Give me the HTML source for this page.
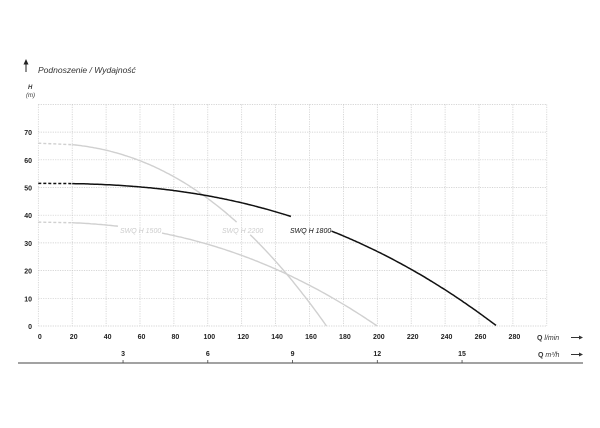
<!DOCTYPE html>
<html><head><meta charset="utf-8"><style>
html,body{margin:0;padding:0;background:#fff;}
svg{display:block;font-family:"Liberation Sans",sans-serif;}
.t{font-size:7px;font-weight:bold;fill:#222;}
</style></head><body>
<svg id="s" width="600" height="428" xmlns="http://www.w3.org/2000/svg">
<g id="grid" stroke="#c8c8c8" stroke-width="0.7" stroke-dasharray="1.2,1.2"></g>
<g id="lab"></g>
<path d="M26 72 V62" stroke="#222" stroke-width="1"/>
<path d="M23.5 64.5 L26 59 L28.5 64.5 Z" fill="#222"/>
<text x="38" y="73" font-size="8.5" font-style="italic" fill="#333">Podnoszenie / Wydajność</text>
<text x="28" y="89" font-size="6" font-style="italic" font-weight="bold" fill="#333">H</text>
<text x="26" y="97" font-size="6" font-style="italic" fill="#333">(m)</text>
<text x="537" y="340" font-size="7" fill="#333"><tspan font-weight="bold">Q</tspan> <tspan font-style="italic">l/min</tspan></text>
<text x="538" y="357" font-size="7" fill="#333"><tspan font-weight="bold">Q</tspan> <tspan font-style="italic">m³/h</tspan></text>
<path d="M571 337.5 H580 M571 354.5 H580" stroke="#333" stroke-width="1"/>
<path d="M579 335.5 L583 337.5 L579 339.5Z M579 352.5 L583 354.5 L579 356.5Z" fill="#333"/>
<path d="M18 363 H583" stroke="#444" stroke-width="1"/>
<g id="curves" fill="none"></g>
<text x="120" y="233" font-size="7" font-style="italic" fill="#ccc">SWQ H 1500</text>
<text x="222" y="233" font-size="7" font-style="italic" fill="#ccc">SWQ H 2200</text>
<text x="290" y="233" font-size="7" font-style="italic" fill="#111">SWQ H 1800</text>
</svg>
<script>
var X=function(q){return 38.3+1.695*q},Y=function(h){return 326-2.77*h};
var g=document.getElementById('grid'),lab=document.getElementById('lab'),ns="http://www.w3.org/2000/svg";
function el(p,t,a,txt){var e=document.createElementNS(ns,t);for(var k in a)e.setAttribute(k,a[k]);if(txt!==undefined)e.textContent=txt;p.appendChild(e);return e;}
for(var q=0;q<=300;q+=20){el(g,'line',{x1:X(q),x2:X(q),y1:Y(80),y2:Y(0)});if(q<=280)el(lab,'text',{x:X(q)+1.5,y:339,'text-anchor':'middle','class':'t'},q);}
for(var h=0;h<=80;h+=10){el(g,'line',{x1:X(0),x2:X(300),y1:Y(h),y2:Y(h)});if(h<=70)el(lab,'text',{x:32,y:Y(h)+3,'text-anchor':'end','class':'t'},h);}
[3,6,9,12,15].forEach(function(m){var x=X(m*50/3);el(lab,'text',{x:x,y:356,'text-anchor':'middle','class':'t'},m);el(lab,'line',{x1:x,x2:x,y1:360,y2:363,stroke:'#444','stroke-width':0.8});});
var cv=document.getElementById('curves');
function curve(a,d,n,qmax,col,w,gaps){
 var f=function(q){return a-d*Math.pow(q/100,n)};
 el(cv,'path',{d:'M'+X(0)+' '+Y(f(0))+' L'+X(20)+' '+Y(f(20)),stroke:col,'stroke-width':w,'stroke-dasharray':'3,2'});
 var segs=[[20,qmax]];gaps.forEach(function(gp){var s=segs.pop();segs.push([s[0],gp[0]]);segs.push([gp[1],s[1]]);});
 segs.forEach(function(s){var p='';for(var q=s[0];q<=s[1]+0.001;q+=1){var qq=Math.min(q,s[1]);p+=(p?'L':'M')+X(qq).toFixed(1)+' '+Y(Math.max(0,f(qq))).toFixed(1);}el(cv,'path',{d:p,stroke:col,'stroke-width':w});});
}
curve(66,20,2.25,170,'#d0d0d0',1.4,[[117,125]]);
curve(37.5,8,2.23,200,'#d0d0d0',1.4,[[47,73]]);
curve(51.5,4.5,2.45,270,'#111',1.5,[[149,173]]);
</script>
</body></html>
